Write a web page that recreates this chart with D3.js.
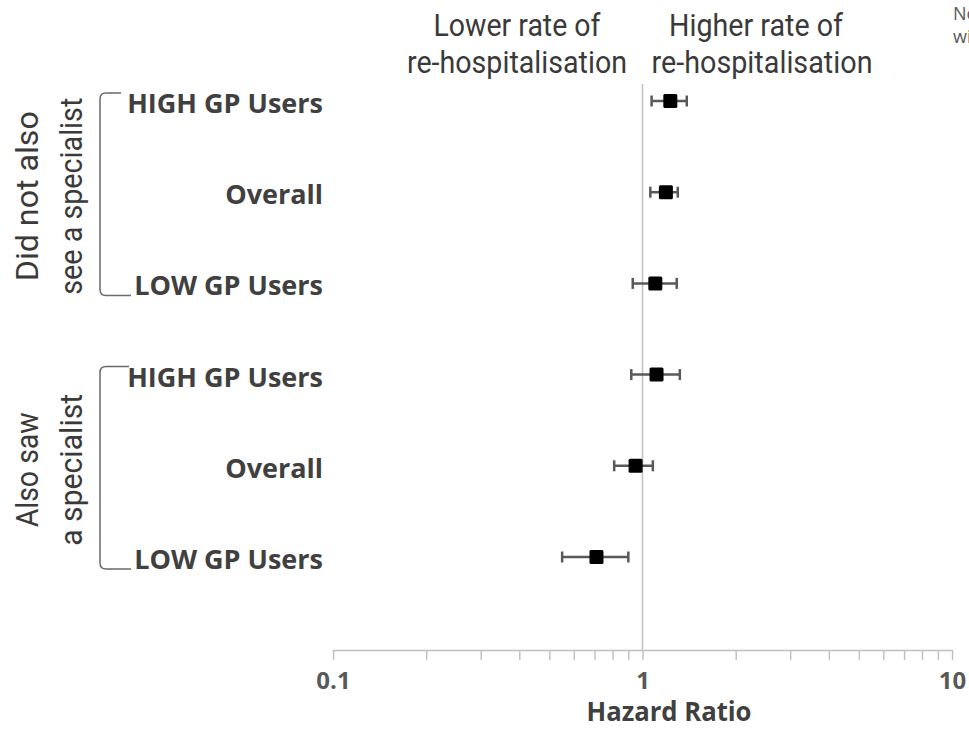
<!DOCTYPE html>
<html>
<head>
<meta charset="utf-8">
<script src="https://cdn.jsdelivr.net/npm/d3@7/dist/d3.min.js"></script>
<style>
  html, body { margin: 0; padding: 0; background: #fff; }
  svg { display: block; }
</style>
</head>
<body>
<svg id="chart" width="969" height="730"></svg>
<script>
// Forest plot of hazard ratios for re-hospitalisation
const rowLabels = ["HIGH GP Users", "Overall", "LOW GP Users", "HIGH GP Users", "Overall", "LOW GP Users"];
const rowIds    = ["a-high", "a-overall", "a-low", "b-high", "b-overall", "b-low"];
const hazard    = [1.23, 1.19, 1.10, 1.11, 0.95, 0.71];
const ciLow     = [1.07, 1.06, 0.93, 0.92, 0.81, 0.55];
const ciHigh    = [1.39, 1.30, 1.29, 1.32, 1.08, 0.90];
const groupLines = [["Did not also", "see a specialist"], ["Also saw", "a specialist"]];
const groupRows  = [["a-high", "a-low"], ["b-high", "b-low"]];
const tickLabels = [0.1, 1, 10];
const headerLeft  = ["Lower rate of", "re-hospitalisation"];
const headerRight = ["Higher rate of", "re-hospitalisation"];
const axisTitle = "Hazard Ratio";
const noteLines = ["Note:", "with"];

const svg = d3.select("#chart");

const x = d3.scaleLog().domain([0.1, 10]).range([333, 952]);
const y = d3.scalePoint().domain(rowIds).range([101, 557]);
const axisY = 650;

const rows = rowIds.map((id, i) => ({
  id, label: rowLabels[i], hr: hazard[i], lo: ciLow[i], hi: ciHigh[i]
}));

// condensed caption font: squeeze a line to a set width
function fit(sel, w) {
  sel.attr("textLength", w).attr("lengthAdjust", "spacingAndGlyphs");
}

// reference line at HR = 1
svg.append("line")
  .attr("x1", x(1)).attr("x2", x(1))
  .attr("y1", 84).attr("y2", axisY)
  .attr("stroke", "#c4c4c4").attr("stroke-width", 1.6);

// log axis with minor ticks
const allTicks = [];
[0.1, 1].forEach(d => { for (let k = 1; k <= 9; k++) allTicks.push(+(d * k).toPrecision(3)); });
allTicks.push(10);
const axis = d3.axisBottom(x)
  .tickValues(allTicks)
  .tickSize(10)
  .tickSizeOuter(0)
  .tickFormat(d => tickLabels.includes(d) ? String(d) : "");
const gAxis = svg.append("g").attr("transform", `translate(0,${axisY})`).call(axis);
gAxis.select(".domain").attr("stroke", "#bfbfbf").attr("stroke-width", 1.6);
gAxis.selectAll(".tick line").attr("stroke", "#bfbfbf").attr("stroke-width", 1.4);
gAxis.selectAll(".tick text")
  .attr("y", 39)
  .attr("dy", null)
  .attr("fill", "#595959")
  .style("font-family", "'Open Sans', sans-serif")
  .style("font-weight", "700")
  .style("font-size", "24px");

svg.append("text")
  .attr("x", 669).attr("y", 721)
  .attr("text-anchor", "middle")
  .attr("fill", "#404040")
  .style("font-family", "'Open Sans', sans-serif")
  .style("font-weight", "700")
  .style("font-size", "26px")
  .text(axisTitle)
  .call(fit, 165);

// error bars
const bars = svg.append("g").selectAll("g").data(rows).join("g");
bars.append("line")
  .attr("x1", d => x(d.lo)).attr("x2", d => x(d.hi))
  .attr("y1", d => y(d.id)).attr("y2", d => y(d.id))
  .attr("stroke", "#595959").attr("stroke-width", 2.5);
bars.selectAll(".cap").data(d => [[d.lo, d.id], [d.hi, d.id]]).join("line")
  .attr("class", "cap")
  .attr("x1", d => x(d[0])).attr("x2", d => x(d[0]))
  .attr("y1", d => y(d[1]) - 5.5).attr("y2", d => y(d[1]) + 5.5)
  .attr("stroke", "#595959").attr("stroke-width", 2.5);
bars.append("rect")
  .attr("x", d => x(d.hr) - 7).attr("y", d => y(d.id) - 7)
  .attr("width", 14).attr("height", 14)
  .attr("rx", 1.5)
  .attr("fill", "#000");

// row labels
svg.append("g").selectAll("text").data(rows).join("text")
  .attr("x", 323)
  .attr("y", d => y(d.id) + 12)
  .attr("text-anchor", "end")
  .attr("fill", "#404040")
  .style("font-family", "'Open Sans', sans-serif")
  .style("font-weight", "700")
  .style("font-size", "27px")
  .text(d => d.label);

// group brackets and rotated group captions
const groupWidths = [[170, 197], [115, 152]];
groupRows.forEach((g, i) => {
  const top = y(g[0]) - 8, bot = y(g[1]) + 12;
  const xb = 100;
  const path = d3.path();
  path.moveTo(i === 0 ? 121 : 129, top);
  path.lineTo(xb + 6, top);
  path.quadraticCurveTo(xb, top, xb, top + 6);
  path.lineTo(xb, bot - 6);
  path.quadraticCurveTo(xb, bot, xb + 6, bot);
  path.lineTo(131, bot);
  svg.append("path").attr("d", path.toString())
    .attr("fill", "none").attr("stroke", "#6a6a6a").attr("stroke-width", 1.5);

  const cy = (top + bot) / 2 + 2;
  const gl = svg.append("g").attr("transform", `translate(0,${cy}) rotate(-90)`);
  groupLines[i].forEach((t, j) => {
    gl.append("text")
      .attr("x", 0).attr("y", j === 0 ? 38 : 82)
      .attr("text-anchor", "middle")
      .attr("fill", "#3a3a3a")
      .style("font-family", "Roboto, sans-serif")
      .style("font-size", "32px")
      .text(t)
      .call(fit, groupWidths[i][j]);
  });
});

// header captions either side of HR = 1
function header(lines, centers, widths) {
  lines.forEach((t, j) => {
    svg.append("text")
      .attr("x", centers[j]).attr("y", j === 0 ? 36 : 73)
      .attr("text-anchor", "middle")
      .attr("fill", "#3a3a3a")
      .style("font-family", "Roboto, sans-serif")
      .style("font-size", "31px")
      .text(t)
      .call(fit, widths[j]);
  });
}
header(headerLeft, [517, 517], [167, 220]);
header(headerRight, [756, 762], [174, 221]);

// note text running off the right edge
noteLines.forEach((t, j) => {
  svg.append("text").attr("x", 953).attr("y", j === 0 ? 20 : 43)
    .attr("fill", "#595959")
    .style("font-family", "'Open Sans', sans-serif")
    .style("font-size", "18px")
    .text(t);
});
</script>
</body>
</html>
